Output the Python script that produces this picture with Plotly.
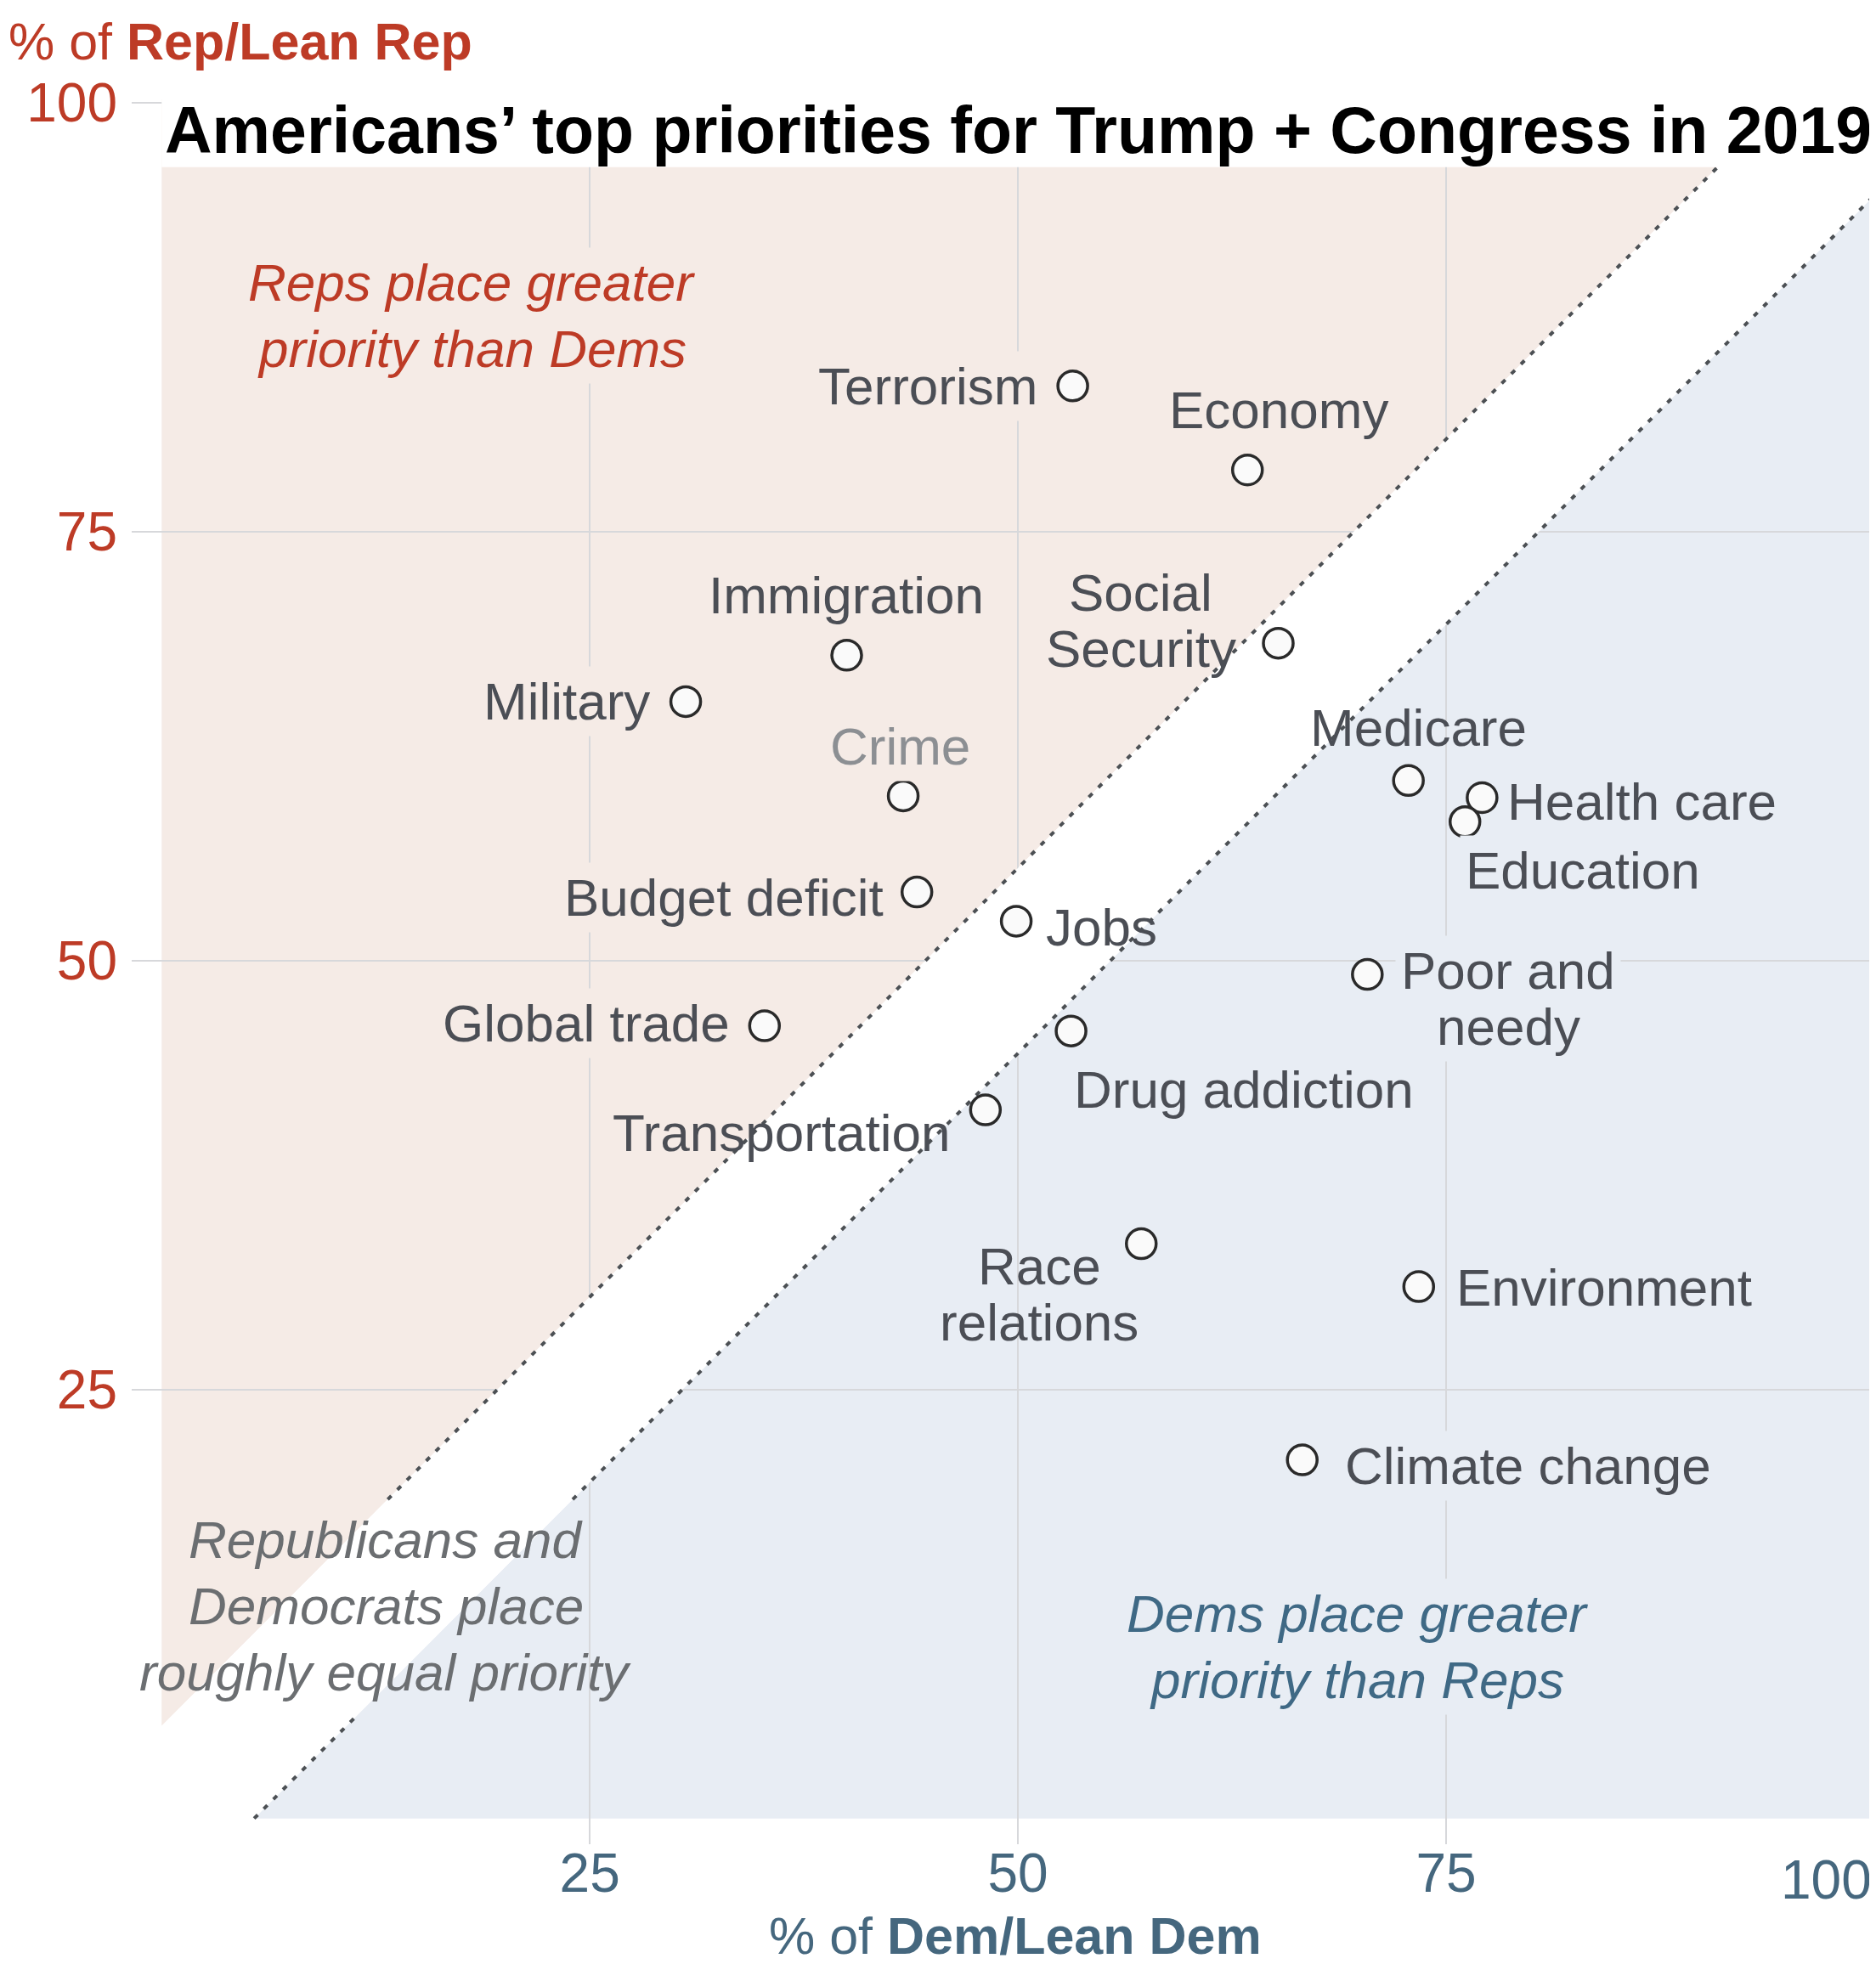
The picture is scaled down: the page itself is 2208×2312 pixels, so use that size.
import plotly.graph_objects as go

# ---------------- data ----------------
topics = ["Terrorism", "Economy", "Immigration", "Military", "Social Security",
          "Crime", "Medicare", "Health care", "Education", "Budget deficit",
          "Jobs", "Poor and needy", "Global trade", "Drug addiction",
          "Transportation", "Race relations", "Environment", "Climate change"]
dem_pct = [53.2, 63.4, 40.0, 30.6, 65.2, 43.3, 72.8, 77.1, 76.1, 44.1,
           49.9, 70.4, 35.2, 53.1, 48.1, 57.2, 73.4, 66.6]
rep_pct = [83.5, 78.6, 67.8, 65.1, 68.5, 59.6, 60.5, 59.5, 58.1, 54.0,
           52.3, 49.2, 46.2, 45.9, 41.3, 33.5, 31.0, 20.9]
tick_vals = [25, 50, 75, 100]
tick_text = ["25", "50", "75", "100"]

# ---------------- styling / layout constants ----------------
FONT = "Liberation Sans, Arial, sans-serif"
PINK = "#f5ebe6"
BLUE = "#e8edf4"
RED = "#bd3b26"
DEMBLUE = "#45677e"
LABEL_COLOR = "#4b4e55"
CRIME_COLOR = "#8c8f93"
GRID = "#d7d8db"
LINE_COLOR = "#4c5054"
BAND = 5.4            # half-width of "roughly equal" band
TOP_CUT = 96.25       # where the title box hides the plot
XR = [-1.75, 100.25]
YR = [-1.5, 100.2]
LABEL_SIZE = 62
TICK_SIZE = 64
LS_LABEL = 66         # line spacing of point labels (px)
LS_NOTE = 78          # line spacing of region notes (px)
PAD = 6

label_lines = {"Social Security": ["Social", "Security"],
               "Poor and needy": ["Poor and", "needy"],
               "Race relations": ["Race", "relations"]}

# xanchor, xshift, yshift (block centre), background
label_pos = {
    "Terrorism": ("right", -35, 0, PINK),
    "Economy": ("center", 37, 71, PINK),
    "Immigration": ("center", -1, 71, PINK),
    "Military": ("right", -35, 0, PINK),
    "Social Security": ("center", -162, 27, None),
    "Crime": ("center", -4, 58, PINK),
    "Medicare": ("center", 12, 62, None),
    "Health care": ("left", 23, -4, BLUE),
    "Education": ("left", -6, -57, BLUE),
    "Budget deficit": ("right", -32, -6, PINK),
    "Jobs": ("left", 28, -7, None),
    "Poor and needy": ("center", 166, -28, BLUE),
    "Global trade": ("right", -34, 3, PINK),
    "Drug addiction": ("left", -4, -69, BLUE),
    "Transportation": ("right", -35, -27, None),
    "Race relations": ("center", -120, -59, None),
    "Environment": ("left", 37, -1, BLUE),
    "Climate change": ("left", 43, -7, BLUE),
}

notes = [
    (["Reps place greater", "priority than Dems"], 18.1, 87.6, RED, PINK),
    (["Republicans and", "Democrats place", "roughly equal priority"], 13.1, 12.4, "#6b6e71", None),
    (["Dems place greater", "priority than Reps"], 69.8, 10.0, "#3f6985", BLUE),
]

fig = go.Figure()

# dotted boundary lines of the equal-priority band (gap where the note sits)
DASH = "6px,10px"
up_y = [18.6, YR[1]]
fig.add_trace(go.Scatter(x=[v - BAND for v in up_y], y=up_y, mode="lines",
                         line=dict(color=LINE_COLOR, width=4, dash=DASH),
                         hoverinfo="skip", showlegend=False))
lo_y = [0, 6.0, None, 18.6, 100 - BAND]
fig.add_trace(go.Scatter(x=[None if v is None else v + BAND for v in lo_y], y=lo_y,
                         mode="lines", connectgaps=False,
                         line=dict(color=LINE_COLOR, width=4, dash=DASH),
                         hoverinfo="skip", showlegend=False))

# points
fig.add_trace(go.Scatter(x=dem_pct, y=rep_pct, mode="markers", text=topics,
                         marker=dict(size=35, color="#fafafa",
                                     line=dict(color="#2a2a2a", width=3.5)),
                         cliponaxis=False, showlegend=False))

# shaded regions
shapes = [
    dict(type="path", xref="x", yref="y", layer="below", line=dict(width=0),
         fillcolor=PINK, path=f"M 0,{BAND} L 0,{YR[1]} L {YR[1]-BAND},{YR[1]} Z"),
    dict(type="path", xref="x", yref="y", layer="below", line=dict(width=0),
         fillcolor=BLUE, path=f"M {BAND},0 L 100,0 L 100,{100-BAND} Z"),
    dict(type="path", xref="x", yref="y", layer="between", line=dict(width=0),
         fillcolor="white",
         path=f"M 0,0 L {BAND},0 L 100,{100-BAND} L 100,{YR[1]} L {YR[1]-BAND},{YR[1]} L 0,{BAND} Z"),
    dict(type="rect", xref="x", yref="y", layer="above", line=dict(width=0),
         fillcolor="white", x0=0, x1=XR[1], y0=TOP_CUT, y1=YR[1] + 1),
]

annotations = []


def add_block(lines, x, y, xa, dx, dy, color, bg, ls, italic=False):
    n = len(lines)
    for i, ln in enumerate(lines):
        annotations.append(dict(
            x=x, y=y, xref="x", yref="y", text=f"<i>{ln}</i>" if italic else ln,
            showarrow=False, xanchor=xa, yanchor="middle", xshift=dx,
            yshift=dy + ((n - 1) / 2 - i) * ls, align="center",
            bgcolor=bg if bg else "rgba(0,0,0,0)", borderpad=PAD,
            font=dict(family=FONT, size=LABEL_SIZE, color=color)))


for t, x, y in zip(topics, dem_pct, rep_pct):
    xa, dx, dy, bg = label_pos[t]
    add_block(label_lines.get(t, [t]), x, y, xa, dx, dy,
              CRIME_COLOR if t == "Crime" else LABEL_COLOR, bg, LS_LABEL)

for lines, x, y, color, bg in notes:
    add_block(lines, x, y, "center", 0, 0, color, bg, LS_NOTE, italic=True)

# last x tick label is nudged inward (as in the original) so it stays on the page
x_ticktext = tick_text[:-1] + [""]
annotations.append(dict(x=tick_vals[-1], y=0, xref="x", yref="paper", text=tick_text[-1],
                        showarrow=False, xanchor="center", yanchor="middle",
                        xshift=-56, yshift=-42,
                        font=dict(family=FONT, size=TICK_SIZE, color=DEMBLUE)))

# title and axis titles
annotations += [
    dict(x=0.0180, y=0.9825, xref="paper", yref="paper", xanchor="left", yanchor="middle",
         showarrow=False, text="<b>Americans’ top priorities for Trump + Congress in 2019</b>",
         font=dict(family=FONT, size=77, color="black")),
    dict(x=-0.0715, y=1.0331, xref="paper", yref="paper", xanchor="left", yanchor="middle",
         showarrow=False, text="% of <b>Rep/Lean Rep</b>",
         font=dict(family=FONT, size=61, color=RED)),
    dict(x=0.506, y=-0.0525, xref="paper", yref="paper", xanchor="center", yanchor="middle",
         showarrow=False, text="% of <b>Dem/Lean Dem</b>",
         font=dict(family=FONT, size=61, color=DEMBLUE)),
]

fig.update_layout(
    width=2208, height=2312,
    margin=dict(l=147, r=5, t=109, b=149, autoexpand=False),
    plot_bgcolor="white", paper_bgcolor="white",
    shapes=shapes, annotations=annotations, showlegend=False,
    xaxis=dict(range=XR, tickvals=tick_vals, ticktext=x_ticktext, showgrid=True,
               gridcolor=GRID, gridwidth=2, zeroline=False, showline=False,
               ticks="", automargin=False, ticklabeloverflow="allow",
               ticklabelstandoff=-9,
               tickfont=dict(family=FONT, size=TICK_SIZE, color=DEMBLUE)),
    yaxis=dict(range=YR, tickvals=tick_vals, ticktext=tick_text, showgrid=True,
               gridcolor=GRID, gridwidth=2, zeroline=False, showline=False,
               ticks="", automargin=False, ticklabeloverflow="allow",
               ticklabelstandoff=16,
               tickfont=dict(family=FONT, size=TICK_SIZE, color=RED)),
)

fig.write_html("out.html")
